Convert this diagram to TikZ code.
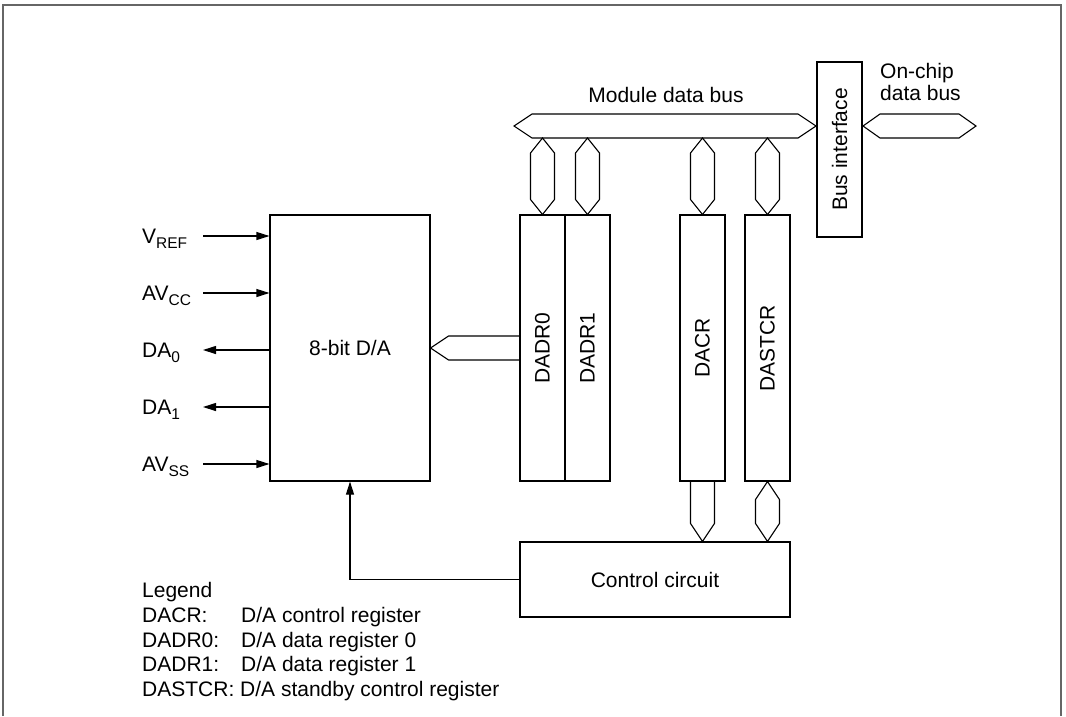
\documentclass[tikz,border=0pt]{standalone}
\usepackage{fontspec}
\setmainfont{Liberation Sans}
\usetikzlibrary{arrows.meta,calc}

\tikzset{
    every node/.style={font=\fontsize{21}{24.6}\selectfont, inner sep=0pt},
    blk/.style={draw, line width=1.1pt},
    reg/.style={blk, minimum width=45pt, minimum height=266pt},
    sig/.style={line width=1.1pt, -{Triangle[length=13pt,width=8pt]}},
    bus/.style={line width=1.1pt},
    frame/.style={line width=1.6pt, black!60},
}

% pin name subscript
\newcommand{\pinsub}[1]{\raisebox{-5pt}{\fontsize{15.5}{15.5}\selectfont #1}}
% double-headed bus, #1 top, #2 bottom, #3 tip length
\newcommand{\vbus}[3]{%
    \draw[bus] (#1) -- ($(#1)+(12,#3)$) -- ($(#2)+(12,-#3)$) -- (#2)
        -- ($(#2)+(-12,-#3)$) -- ($(#1)+(-12,#3)$) -- cycle;}
% double-headed bus, #1 left, #2 right, #3 tip length
\newcommand{\hbus}[3]{%
    \draw[bus] (#1) -- ($(#1)+(#3,-12)$) -- ($(#2)+(-#3,-12)$) -- (#2)
        -- ($(#2)+(-#3,12)$) -- ($(#1)+(#3,12)$) -- cycle;}

\begin{document}
\begin{tikzpicture}[x=1pt, y=-1pt]
    \useasboundingbox (0,0) rectangle (1066,716);
    \draw[frame] (3,716) -- (3,5) -- (1061,5) -- (1061,716);

    % Blocks
    \node[blk, minimum width=160pt, minimum height=266pt] (dac) at (350,348) {8-bit D/A};
    \node[reg] (dadr0) at (542.5,348) {\rotatebox{90}{DADR0}};
    \node[reg] (dadr1) at (587.5,348) {\rotatebox{90}{DADR1}};
    \node[reg] (dacr) at (702.5,348) {\rotatebox{90}{DACR}};
    \node[reg] (dastcr) at (767.5,348) {\rotatebox{90}{DASTCR}};
    \node[blk, minimum width=45pt, minimum height=175pt] (busif) at (839.5,149.5) {\rotatebox{90}{Bus interface}};
    \node[blk, minimum width=270pt, minimum height=75pt] (ctrl) at (655,579.5) {Control circuit};

    % Module data bus
    \coordinate (mbL) at (514,126);
    \coordinate (mbR) at (816,126);
    \coordinate (mbB) at (514,138);
    \hbus{mbL}{mbR}{18}
    \node[anchor=base] (mblabel) at (666,102) {Module data bus};

    % On-chip data bus
    \coordinate (obL) at (863,126);
    \coordinate (obR) at (976,126);
    \hbus{obL}{obR}{17}
    \node[anchor=north west, align=left, font=\fontsize{21}{22}\selectfont] (oblabel) at (880,63) {On-chip\\data bus};

    % Buses to registers
    \vbus{dadr0.north |- mbB}{dadr0.north}{15}
    \vbus{dadr1.north |- mbB}{dadr1.north}{15}
    \vbus{dacr.north |- mbB}{dacr.north}{15}
    \vbus{dastcr.north |- mbB}{dastcr.north}{15}
    \vbus{dastcr.south}{dastcr.south |- ctrl.north}{18}

    % DADR0 -> D/A
    \draw[bus] ($(dadr0.west)+(0,-12)$) -- ($(dac.east)+(18,-12)$) -- (dac.east)
        -- ($(dac.east)+(18,12)$) -- ($(dadr0.west)+(0,12)$);
    % DACR -> control circuit
    \draw[bus] ($(dacr.south)+(-12,0)$) -- ($(dacr.south |- ctrl.north)+(-12,-18)$) -- (dacr.south |- ctrl.north)
        -- ($(dacr.south |- ctrl.north)+(12,-18)$) -- ($(dacr.south)+(12,0)$);

    % Control circuit -> D/A
    \draw[sig] (ctrl.west) -| (dac.south);

    % Analog pins
    \coordinate (pvref) at (203,236);
    \coordinate (pavcc) at (203,293);
    \coordinate (pda0) at (203,350);
    \coordinate (pda1) at (203,407);
    \coordinate (pavss) at (203,464);
    \node[anchor=base west] (lvref) at (142,243.5) {V\pinsub{REF}};
    \node[anchor=base west] (lavcc) at (142,300.5) {AV\pinsub{CC}};
    \node[anchor=base west] (lda0) at (142,357.5) {DA\pinsub{0}};
    \node[anchor=base west] (lda1) at (142,414.5) {DA\pinsub{1}};
    \node[anchor=base west] (lavss) at (142,471.5) {AV\pinsub{SS}};
    \draw[sig] (pvref) -- (pvref -| dac.west);
    \draw[sig] (pavcc) -- (pavcc -| dac.west);
    \draw[sig] (pda0 -| dac.west) -- (pda0);
    \draw[sig] (pda1 -| dac.west) -- (pda1);
    \draw[sig] (pavss) -- (pavss -| dac.west);

    % Legend
    \node[anchor=north west, align=left] (legend) at (142,582.5) {Legend\\
        \makebox[99pt][l]{DACR:}D/A control register\\
        \makebox[99pt][l]{DADR0:}D/A data register 0\\
        \makebox[99pt][l]{DADR1:}D/A data register 1\\
        DASTCR: D/A standby control register};
\end{tikzpicture}
\end{document}
